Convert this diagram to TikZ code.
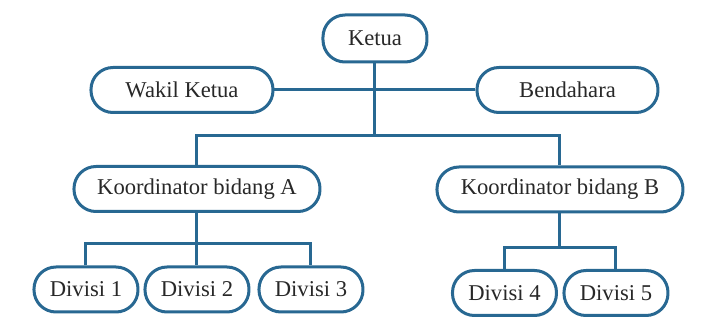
\documentclass[tikz,border=0pt]{standalone}
\usepackage{fontspec}
\setmainfont{Liberation Serif}
\usepackage{xcolor}
\usetikzlibrary{positioning,calc}
\definecolor{orgblue}{RGB}{40,104,146}
\definecolor{orgtext}{RGB}{40,40,40}

\begin{document}
\begin{tikzpicture}[x=0.5pt, y=-0.5pt, font=\fontsize{11.3}{13}\selectfont,
  box/.style={draw=orgblue, line width=1.5pt, rounded corners=11pt, align=center,
    minimum height=22.5pt, inner sep=2pt, fill=white, text=orgtext},
  link/.style={draw=orgblue, line width=1.5pt}]
  \useasboundingbox (0,0) rectangle (720,331);
  \node[box, minimum width=52pt, minimum height=23.5pt] (ketua) at (375,38.5) {Ketua};
  \node[box, minimum width=91pt] (wakil) at (182,90) {Wakil Ketua};
  \node[box, minimum width=90.5pt] (bendahara) at (567.5,90) {Bendahara};
  \node[box, minimum width=123pt] (koorA) at (197,189) {Koordinator bidang A};
  \node[box, minimum width=123pt] (koorB) at (560,189.5) {Koordinator bidang B};
  \node[box, minimum width=52pt] (div1) at (86,289.5) {Divisi 1};
  \node[box, minimum width=52pt] (div2) at (197,289.5) {Divisi 2};
  \node[box, minimum width=52pt] (div3) at (311,289.5) {Divisi 3};
  \node[box, minimum width=52pt] (div4) at (504.5,293) {Divisi 4};
  \node[box, minimum width=52pt] (div5) at (616,293) {Divisi 5};
  % branch points
  \coordinate (bar) at (375,136);
  \coordinate (barA) at (197,244);
  \coordinate (barB) at (560,248);
  \draw[link] (wakil) -- (bendahara);
  \draw[link] (ketua) -- (bar);
  \draw[link] (koorA.north) |- (bar) -| (koorB.north);
  \draw[link] (koorA) -- (div2);
  \draw[link] (div1.north) |- (barA) -| (div3.north);
  \draw[link] (koorB) -- (barB);
  \draw[link] (div4.north) |- (barB) -| (div5.north);
\end{tikzpicture}
\end{document}
